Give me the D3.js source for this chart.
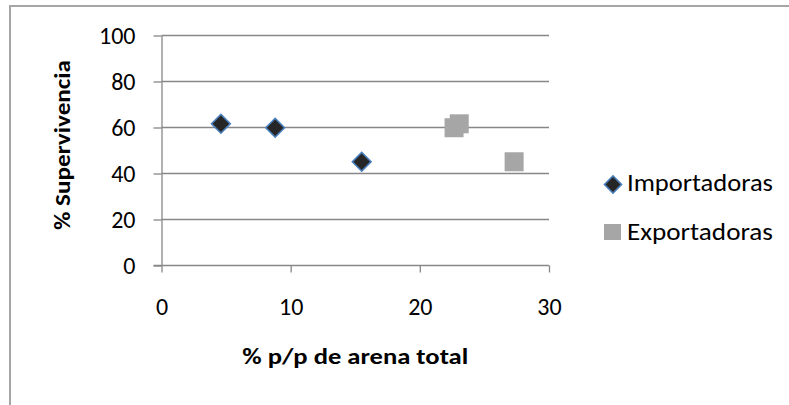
<!DOCTYPE html>
<html>
<head>
<meta charset="utf-8">
<script src="https://cdn.jsdelivr.net/npm/d3@7"></script>
<style>
  html, body { margin: 0; padding: 0; background: #fff; }
  svg { display: block; }
  text { font-family: Carlito, Lato, "Open Sans", sans-serif; fill: #000; }
</style>
</head>
<body>
<svg id="chart" width="789" height="405"></svg>
<script>
const importX = [4.6, 8.8, 15.5];
const importY = [61.6, 59.9, 45.1];
const exportX = [22.65, 23.05, 27.3];
const exportY = [59.9, 61.6, 45.1];
const xTicks = [0, 10, 20, 30];
const yTicks = [0, 20, 40, 60, 80, 100];
const seriesNames = ["Importadoras", "Exportadoras"];
const xTitle = "% p/p de arena total";
const yTitle = "% Supervivencia";

const svg = d3.select("#chart");
const x = d3.scaleLinear().domain([0, 30]).range([161.5, 549]);
const y = d3.scaleLinear().domain([0, 100]).range([265.5, 35.5]);
const grid = "#878787";

// outer chart border (cropped at right/bottom)
svg.append("rect").attr("x", 10).attr("y", 6).attr("width", 800).attr("height", 420)
  .attr("fill", "none").attr("stroke", "#a6a6a6").attr("stroke-width", 2);

// gridlines
svg.append("g").selectAll("line").data(yTicks.filter(d => d > 0)).join("line")
  .attr("x1", x(0)).attr("x2", x(30))
  .attr("y1", d => y(d)).attr("y2", d => y(d))
  .attr("stroke", grid).attr("stroke-width", 1.3);

// y axis
const yAxis = svg.append("g").attr("transform", `translate(${x(0)},0)`)
  .call(d3.axisLeft(y).tickValues(yTicks).tickSize(8).tickPadding(18).tickSizeOuter(0));
yAxis.select(".domain").attr("stroke", grid).attr("stroke-width", 1.3);
yAxis.selectAll(".tick line").attr("stroke", grid).attr("stroke-width", 1.3);
yAxis.selectAll(".tick text").attr("font-size", 24).attr("font-family", "Carlito, Lato, sans-serif").attr("fill", "#000");

// x axis
const xAxis = svg.append("g").attr("transform", `translate(0,${y(0)})`)
  .call(d3.axisBottom(x).tickValues(xTicks).tickSize(7).tickPadding(25).tickSizeOuter(0));
xAxis.select(".domain").attr("stroke", grid).attr("stroke-width", 1.3)
  .attr("d", `M${x(0) - 8},0H${x(30)}`);
xAxis.selectAll(".tick line").attr("stroke", grid).attr("stroke-width", 1.3);
xAxis.selectAll(".tick text").attr("font-size", 24).attr("font-family", "Carlito, Lato, sans-serif").attr("fill", "#000");

// axis titles
svg.append("text").attr("x", (x(0) + x(30)) / 2).attr("y", 364)
  .attr("text-anchor", "middle").attr("font-weight", "bold").attr("font-size", 23)
  .attr("textLength", 226).attr("lengthAdjust", "spacingAndGlyphs").text(xTitle);
svg.append("text").attr("transform", "translate(70,145) rotate(-90)")
  .attr("text-anchor", "middle").attr("font-weight", "bold").attr("font-size", 23)
  .attr("textLength", 170).attr("lengthAdjust", "spacingAndGlyphs").text(yTitle);

// export squares
const sq = 19;
svg.append("g").selectAll("rect").data(d3.zip(exportX, exportY)).join("rect")
  .attr("x", d => x(d[0]) - sq / 2).attr("y", d => y(d[1]) - sq / 2)
  .attr("width", sq).attr("height", sq).attr("fill", "#a6a6a6");

// import diamonds
svg.append("g").selectAll("path").data(d3.zip(importX, importY)).join("path")
  .attr("d", d3.symbol().type(d3.symbolSquare).size(175))
  .attr("transform", d => `translate(${x(d[0])},${y(d[1])}) rotate(45)`)
  .attr("fill", "#262626").attr("stroke", "#4a7ebb").attr("stroke-width", 1.6);

// legend
const lg = svg.append("g");
lg.append("path").attr("d", d3.symbol().type(d3.symbolSquare).size(145)())
  .attr("transform", "translate(613,184.5) rotate(45)")
  .attr("fill", "#262626").attr("stroke", "#4a7ebb").attr("stroke-width", 1.6);
lg.append("rect").attr("x", 604).attr("y", 224).attr("width", 17).attr("height", 16).attr("fill", "#a6a6a6");
lg.append("text").attr("x", 627).attr("y", 191).attr("font-size", 24)
  .attr("textLength", 146).attr("lengthAdjust", "spacingAndGlyphs").text(seriesNames[0]);
lg.append("text").attr("x", 627).attr("y", 240).attr("font-size", 24)
  .attr("textLength", 146).attr("lengthAdjust", "spacingAndGlyphs").text(seriesNames[1]);
</script>
</body>
</html>
